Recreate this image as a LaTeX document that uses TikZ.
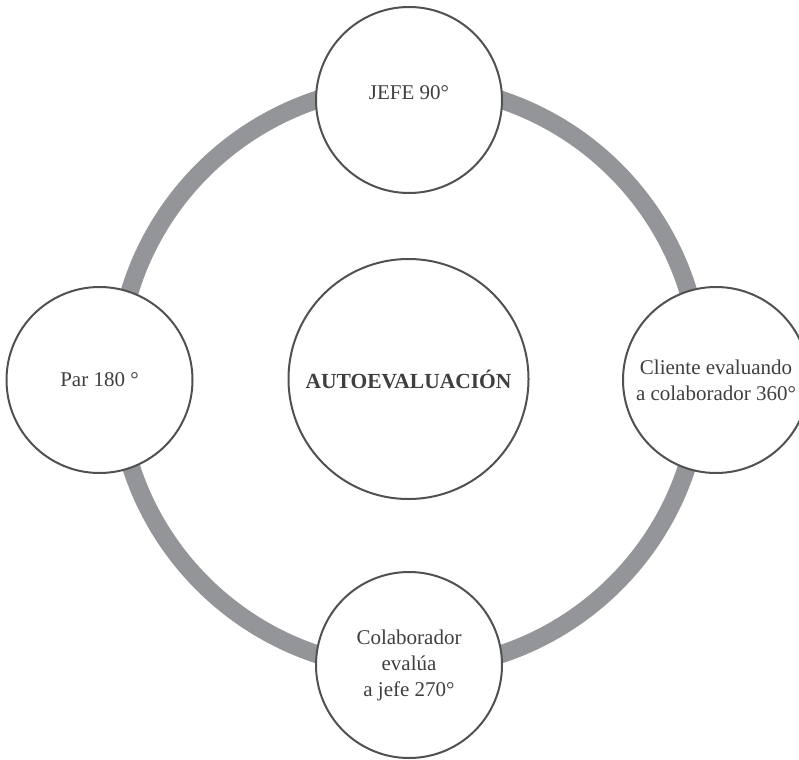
\documentclass[tikz,border=0pt]{standalone}
\usepackage{fontspec}
\setmainfont{Liberation Serif}
\definecolor{ringgray}{HTML}{939598}
\definecolor{edgegray}{HTML}{4F5152}
\definecolor{textgray}{HTML}{3F3F3F}
\begin{document}
\begin{tikzpicture}[x=1pt,y=-1pt,
  ring/.style={draw=ringgray,line width=18pt},
  bubble/.style={circle,draw=edgegray,line width=2pt,fill=white,
    minimum size=186pt,inner sep=0pt,align=center,text=textgray,
    font=\fontsize{21}{26}\selectfont},
  hub/.style={bubble,minimum size=240pt,font=\fontsize{21.5}{26}\selectfont\bfseries}]
  \useasboundingbox (0,0) rectangle (799,759);
  % grey ring joining the outer evaluators
  \coordinate (ringc) at (409,377);
  \draw[ring] (ringc) circle[radius=292pt];
  % evaluator circles
  \node[hub]    (auto)  at (408.5,379) {AUTOEVALUACIÓN};
  \node[bubble] (jefe)  at (409,100)   {\raisebox{7pt}[\height][\depth]{JEFE 90°}};
  \node[bubble] (par)   at (99.5,380)  {Par 180 °};
  \node[bubble] (cli)   at (716,380)   {Cliente evaluando\\a colaborador 360°};
  \node[bubble] (colab) at (409,665)   {Colaborador\\evalúa\\a jefe 270°};
\end{tikzpicture}
\end{document}
